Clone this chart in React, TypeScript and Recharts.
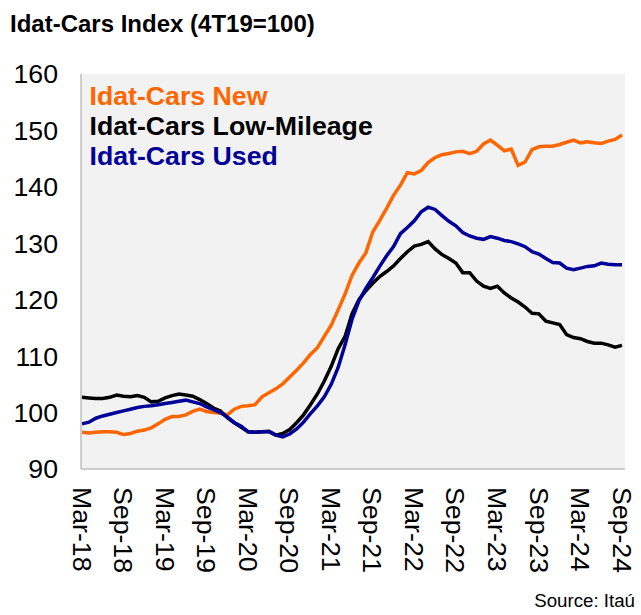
import React from 'react';
import { LineChart, Line, XAxis, YAxis, CartesianGrid } from 'recharts';

const MONTHS = [
  'Mar-18','Apr-18','May-18','Jun-18','Jul-18','Aug-18','Sep-18','Oct-18','Nov-18','Dec-18',
  'Jan-19','Feb-19','Mar-19','Apr-19','May-19','Jun-19','Jul-19','Aug-19','Sep-19','Oct-19','Nov-19','Dec-19',
  'Jan-20','Feb-20','Mar-20','Apr-20','May-20','Jun-20','Jul-20','Aug-20','Sep-20','Oct-20','Nov-20','Dec-20',
  'Jan-21','Feb-21','Mar-21','Apr-21','May-21','Jun-21','Jul-21','Aug-21','Sep-21','Oct-21','Nov-21','Dec-21',
  'Jan-22','Feb-22','Mar-22','Apr-22','May-22','Jun-22','Jul-22','Aug-22','Sep-22','Oct-22','Nov-22','Dec-22',
  'Jan-23','Feb-23','Mar-23','Apr-23','May-23','Jun-23','Jul-23','Aug-23','Sep-23','Oct-23','Nov-23','Dec-23',
  'Jan-24','Feb-24','Mar-24','Apr-24','May-24','Jun-24','Jul-24','Aug-24','Sep-24',
];

const TICK_LABELS = [
  'Mar-18','Sep-18','Mar-19','Sep-19','Mar-20','Sep-20','Mar-21',
  'Sep-21','Mar-22','Sep-22','Mar-23','Sep-23','Mar-24','Sep-24',
];

const Y_TICKS = [90, 100, 110, 120, 130, 140, 150, 160];

const NEW_CARS = [
  96.5, 96.4, 96.5, 96.6, 96.6, 96.5, 96.1, 96.3, 96.7, 96.9,
  97.3, 98.0, 98.8, 99.3, 99.3, 99.6, 100.2, 100.6, 100.2, 100.0,
  99.9, 99.6, 100.6, 101.1, 101.2, 101.4, 102.8, 103.5, 104.2, 105.1,
  106.3, 107.5, 108.8, 110.3, 111.5, 113.5, 115.5, 118.2, 121.0, 124.3,
  126.5, 128.3, 132.0, 134.0, 136.2, 138.5, 140.3, 142.5, 142.3, 142.9,
  144.3, 145.2, 145.7, 145.9, 146.2, 146.3, 145.9, 146.3, 147.6, 148.3,
  147.4, 146.4, 146.7, 143.8, 144.4, 146.6, 147.1, 147.2, 147.2, 147.5,
  147.9, 148.3, 147.8, 148.0, 147.8, 147.7, 148.1, 148.4, 149.2,
];

const LOW_MILEAGE = [
  102.7, 102.6, 102.5, 102.5, 102.7, 103.1, 102.9, 102.8, 103.0, 102.7,
  101.9, 102.0, 102.6, 103.0, 103.3, 103.1, 102.9, 102.3, 101.6, 100.8,
  100.3, 99.1, 98.2, 97.4, 96.6, 96.5, 96.6, 96.7, 96.0, 96.3,
  97.0, 98.2, 99.6, 101.4, 103.3, 105.6, 108.2, 111.3, 113.5, 117.5,
  120.0, 121.6, 122.9, 124.1, 125.0, 126.0, 127.3, 128.5, 129.5, 129.8,
  130.3, 129.0, 128.0, 127.3, 126.5, 124.8, 124.8, 123.3, 122.4, 122.0,
  122.4, 121.2, 120.3, 119.6, 118.7, 117.6, 117.5, 116.2, 115.9, 115.6,
  113.8, 113.3, 113.1, 112.6, 112.3, 112.3, 112.0, 111.6, 111.9,
];

const USED_CARS = [
  98.0, 98.3, 99.0, 99.4, 99.7, 100.0, 100.3, 100.6, 100.9, 101.1,
  101.2, 101.4, 101.6, 101.8, 102.0, 102.2, 101.9, 101.6, 101.0, 100.5,
  100.0, 99.2, 98.2, 97.6, 96.6, 96.5, 96.6, 96.6, 96.0, 95.7,
  96.2, 97.1, 98.3, 99.8, 101.2, 102.8, 105.0, 108.0, 112.0, 116.5,
  119.8, 122.0, 123.9, 125.9, 127.8, 129.4, 131.7, 132.8, 134.0, 135.6,
  136.4, 136.0, 134.9, 133.9, 133.1, 131.9, 131.3, 130.9, 130.7, 131.2,
  130.9, 130.5, 130.3, 129.9, 129.4, 128.5, 128.1, 127.3, 126.6, 126.5,
  125.6, 125.3, 125.6, 125.9, 126.0, 126.5, 126.3, 126.2, 126.2,
];

const SERIES = [
  { key: 'newCars', name: 'Idat-Cars New', color: '#FF6600', values: NEW_CARS },
  { key: 'lowMileage', name: 'Idat-Cars Low-Mileage', color: '#000000', values: LOW_MILEAGE },
  { key: 'usedCars', name: 'Idat-Cars Used', color: '#000099', values: USED_CARS },
];

const data = MONTHS.map((month, i) => ({
  month,
  newCars: NEW_CARS[i],
  lowMileage: LOW_MILEAGE[i],
  usedCars: USED_CARS[i],
}));

const FONT = '"Liberation Sans", Arial, Helvetica, sans-serif';

const XTick = (props: any) => {
  const { x, y, payload } = props;
  return (
    <g transform={`translate(${x},${y + 10}) rotate(90)`}>
      <text x={0} y={0} dy="0.35em" textAnchor="start" fontSize={26.7} fontFamily={FONT} fill="#000">
        {payload.value}
      </text>
    </g>
  );
};

export default function App() {
  return (
    <div style={{ position: 'absolute', left: 0, top: 0, width: 641, height: 615, background: '#fff', fontFamily: FONT }}>
      <div style={{ position: 'absolute', left: 10, top: 10, fontSize: 24, lineHeight: '28px', fontWeight: 'bold', color: '#000', whiteSpace: 'nowrap' }}>
        Idat-Cars Index (4T19=100)
      </div>
      <LineChart width={641} height={615} data={data} margin={{ top: 74, right: 16, left: 0, bottom: 26 }}>
        <CartesianGrid horizontal={false} vertical={false} fill="#f2f2f2" />
        <XAxis
          dataKey="month"
          ticks={TICK_LABELS}
          interval={0}
          tick={<XTick />}
          tickLine={false}
          axisLine={{ stroke: '#bfbfbf', strokeWidth: 1.5 }}
          height={120}
          padding={{ left: 1, right: 3 }}
        />
        <YAxis
          domain={[90, 160]}
          ticks={Y_TICKS}
          width={81}
          tickLine={false}
          tickMargin={17}
          axisLine={{ stroke: '#bfbfbf', strokeWidth: 1.5 }}
          tick={{ fontSize: 26.7, fill: '#000', fontFamily: FONT }}
          allowDataOverflow
        />
        {SERIES.map((s) => (
          <Line
            key={s.key}
            type="linear"
            dataKey={s.key}
            name={s.name}
            stroke={s.color}
            strokeWidth={3.5}
            dot={false}
            activeDot={false}
            isAnimationActive={false}
          />
        ))}
      </LineChart>
      <div style={{ position: 'absolute', left: 89.5, top: 81, fontSize: 26.7, lineHeight: '30px', fontWeight: 'bold', whiteSpace: 'nowrap' }}>
        {SERIES.map((s) => (
          <div key={s.key} style={{ color: s.color }}>{s.name}</div>
        ))}
      </div>
      <div style={{ position: 'absolute', right: 6, top: 590, fontSize: 18.7, lineHeight: '22px', color: '#000', whiteSpace: 'nowrap' }}>
        Source: Itaú
      </div>
    </div>
  );
}
